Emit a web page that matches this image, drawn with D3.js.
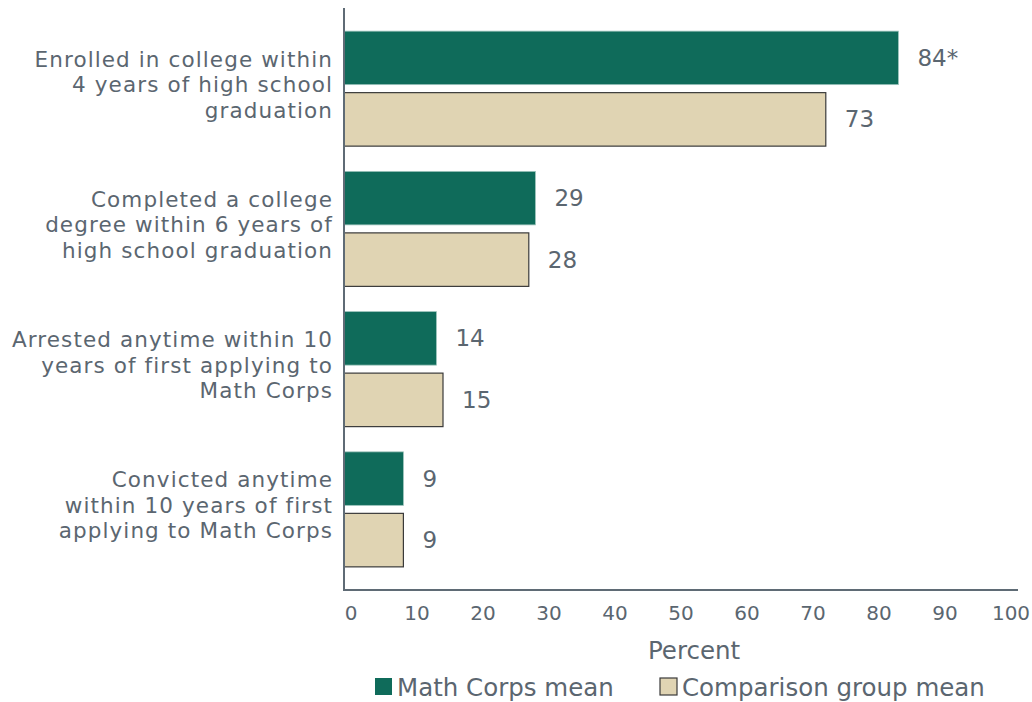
<!DOCTYPE html>
<html>
<head>
<meta charset="utf-8">
<script src="https://cdn.jsdelivr.net/npm/d3@7"></script>
<style>
  body { margin: 0; background: #fff; }
  text { font-family: "DejaVu Sans", sans-serif; }
</style>
</head>
<body>
<div id="chart"></div>
<script>
// outcome categories (wrapped lines as in the original)
const categories = [
    ['Enrolled in college within', '4 years of high school', 'graduation'],
    ['Completed a college', 'degree within 6 years of', 'high school graduation'],
    ['Arrested anytime within 10', 'years of first applying to', 'Math Corps'],
    ['Convicted anytime', 'within 10 years of first', 'applying to Math Corps']
];
const seriesNames = ['Math Corps mean', 'Comparison group mean'];
const mathCorps = [84, 29, 14, 9];
const comparison = [73, 28, 15, 9];
const significant = [true, false, false, false];
const xTicks = [0, 10, 20, 30, 40, 50, 60, 70, 80, 90, 100];

const width = 1032, height = 702;
const textColor = '#5b6670';
const axisColor = '#5f6b75';
const colors = ['#0f6b5a', '#e0d4b3'];

const rows = categories.map((c, i) => ({
    key: String(i),
    lines: c,
    values: [
        { s: 0, v: mathCorps[i], label: mathCorps[i] + (significant[i] ? '*' : '') },
        { s: 1, v: comparison[i], label: String(comparison[i]) }
    ]
}));

const svg = d3.select('#chart')
    .append('svg')
    .attr('width', width)
    .attr('height', height);

const x = d3.scaleLinear().domain([0, 100]).range([344, 1004]);

const y = d3.scaleBand()
    .domain(rows.map(d => d.key))
    .range([8, 590])
    .paddingInner(0.18)
    .paddingOuter(0.165);

const ySub = d3.scaleBand()
    .domain([0, 1])
    .range([0, y.bandwidth()])
    .paddingInner(0.13);

// bars
const groups = svg.append('g')
    .selectAll('g')
    .data(rows)
    .enter().append('g')
    .attr('transform', d => `translate(0,${y(d.key)})`);

groups.selectAll('rect')
    .data(d => d.values)
    .enter().append('rect')
    .attr('x', x(0))
    .attr('y', d => ySub(d.s))
    .attr('width', d => x(d.v) - x(0))
    .attr('height', ySub.bandwidth())
    .attr('fill', d => colors[d.s])
    .attr('stroke', d => d.s === 0 ? '#9cc3bb' : '#3a3a3a')
    .attr('stroke-width', d => d.s === 0 ? 0.8 : 1.2);

// value labels
groups.selectAll('text.val')
    .data(d => d.values)
    .enter().append('text')
    .attr('class', 'val')
    .attr('x', d => x(d.v) + 19)
    .attr('y', d => ySub(d.s) + ySub.bandwidth() / 2)
    .attr('dy', '0.35em')
    .style('fill', textColor)
    .style('font-size', '23px')
    .text(d => d.label);

// category labels
const lineGap = 25.5;
const catLabels = svg.append('g')
    .selectAll('text')
    .data(rows)
    .enter().append('text')
    .attr('text-anchor', 'end')
    .style('fill', textColor)
    .style('font-size', '21.5px')
    .style('letter-spacing', '1.1px');

catLabels.selectAll('tspan')
    .data(d => d.lines.map((l, i) => ({ l, i, key: d.key, n: d.lines.length })))
    .enter().append('tspan')
    .attr('x', 333)
    .attr('y', d => y(d.key) + y.bandwidth() / 2 - 4 + (d.i - (d.n - 1) / 2) * lineGap)
    .attr('dy', '0.35em')
    .text(d => d.l);

// axes
svg.append('line')
    .attr('x1', 344).attr('x2', 344)
    .attr('y1', 8).attr('y2', 591)
    .style('stroke', axisColor)
    .style('stroke-width', 2);

svg.append('line')
    .attr('x1', 343).attr('x2', 1018)
    .attr('y1', 590).attr('y2', 590)
    .style('stroke', axisColor)
    .style('stroke-width', 2);

svg.append('g')
    .selectAll('text')
    .data(xTicks)
    .enter().append('text')
    .attr('x', d => x(d) + 7)
    .attr('y', 613)
    .attr('dy', '0.35em')
    .attr('text-anchor', 'middle')
    .style('fill', textColor)
    .style('font-size', '20px')
    .text(d => d);

svg.append('text')
    .attr('x', 694)
    .attr('y', 650)
    .attr('dy', '0.35em')
    .attr('text-anchor', 'middle')
    .style('fill', textColor)
    .style('font-size', '24.5px')
    .text('Percent');

// legend
const legendX = [375, 660];
const legend = svg.append('g')
    .selectAll('g')
    .data(seriesNames)
    .enter().append('g')
    .attr('transform', (d, i) => `translate(${legendX[i]},678)`);

legend.append('rect')
    .attr('width', 17)
    .attr('height', 17)
    .attr('fill', (d, i) => colors[i])
    .attr('stroke', (d, i) => i === 0 ? 'none' : '#3a3a3a')
    .attr('stroke-width', 1.2);

legend.append('text')
    .attr('x', 22)
    .attr('y', 9)
    .attr('dy', '0.35em')
    .style('fill', textColor)
    .style('font-size', '24.5px')
    .text(d => d);
</script>
</body>
</html>
